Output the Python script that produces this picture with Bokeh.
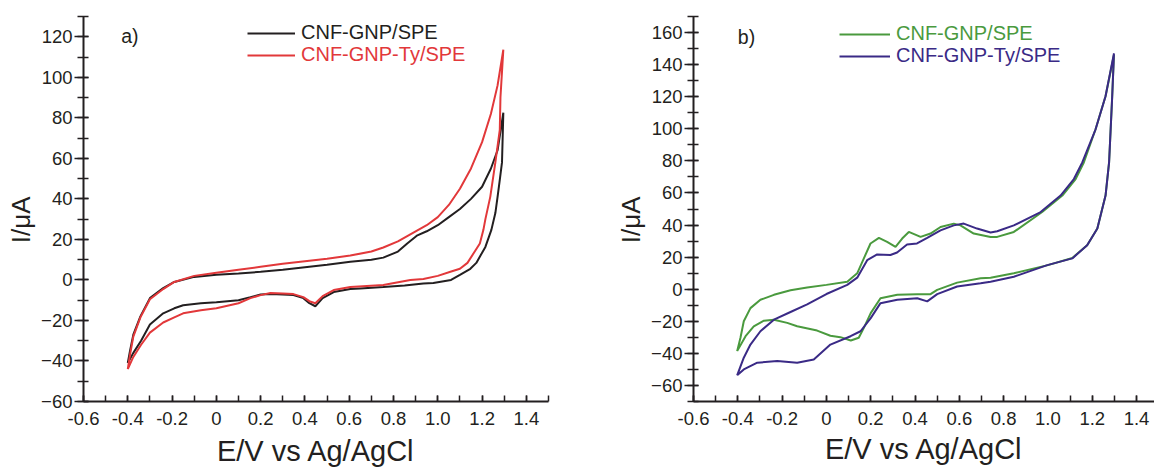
from bokeh.plotting import figure
from bokeh.models import (Range1d, FixedTicker, CustomJSTickFormatter, Legend, LegendItem, Label)
from bokeh.layouts import row
from bokeh.embed import file_html
from bokeh.resources import INLINE

# ---------------- data ----------------
# Panel a) CNF-GNP/SPE (black loop: forward branch then return branch)
e_a_black = [-0.40, -0.39, -0.375, -0.343, -0.30, -0.24, -0.19, -0.10, 0.0, 0.10, 0.20, 0.30, 0.38, 0.50, 0.605, 0.70,
             0.754, 0.82, 0.862, 0.908, 0.95, 1.0, 1.05, 1.10, 1.15, 1.20, 1.24, 1.27, 1.296,
             1.29, 1.28, 1.27, 1.26, 1.242, 1.215, 1.174, 1.147, 1.10, 1.06, 0.98, 0.935, 0.85, 0.754, 0.65, 0.605,
             0.53, 0.48, 0.447, 0.42, 0.393, 0.348, 0.30, 0.244, 0.20, 0.154, 0.10, 0.0, -0.07, -0.15, -0.19, -0.24,
             -0.30, -0.34, -0.375, -0.40]
i_a_black = [-41, -35, -27, -18, -9, -4, -1, 1.5, 2.5, 3.2, 4, 5, 6, 7.5, 9, 10,
             11, 14, 18, 22, 24, 27, 31, 35, 40, 46, 55, 64, 82.5,
             58, 49.4, 41, 33, 24.7, 16.3, 8.4, 5.5, 2.5, 0, -1.5, -1.8, -2.8, -3.5, -4.2, -4.5,
             -6, -9, -13, -11.5, -9, -7.5, -7.2, -7, -7.2, -8.5, -10, -11, -11.5, -12.5, -14, -16.5,
             -22, -30, -36, -41]

# Panel a) CNF-GNP-Ty/SPE (red loop)
e_a_red = [-0.40, -0.39, -0.375, -0.343, -0.30, -0.24, -0.19, -0.10, 0.0, 0.10, 0.20, 0.30, 0.38, 0.50, 0.605, 0.70,
           0.754, 0.82, 0.876, 0.90, 0.95, 1.0, 1.05, 1.10, 1.15, 1.20, 1.24, 1.27, 1.296,
           1.283, 1.28, 1.26, 1.237, 1.215, 1.206, 1.19, 1.134, 1.10, 1.057, 1.0, 0.935, 0.876, 0.754, 0.605, 0.53,
           0.48, 0.447, 0.42, 0.393, 0.348, 0.30, 0.244, 0.20, 0.154, 0.10, 0.0, -0.07, -0.15, -0.19, -0.24,
           -0.30, -0.34, -0.375, -0.40]
i_a_red = [-44, -37, -28, -18.5, -9.5, -4.5, -1, 2, 3.5, 5, 6.5, 8, 9, 10.5, 12, 14,
           16, 19, 22.5, 24, 27, 31, 37, 45, 55, 68, 82, 96, 113.6,
           90, 74, 58, 41, 30, 24.7, 18, 8.4, 5.5, 4, 2, 0.5, 0, -2.5, -3.5, -5,
           -8, -11.5, -10.5, -8.5, -7, -6.7, -6.5, -7.5, -9, -11.5, -14, -15, -16.5, -18.5, -21,
           -26, -32, -38, -44]

# Panel b) CNF-GNP/SPE (green loop)
e_b_green = [-0.403, -0.388, -0.373, -0.343, -0.298, -0.237, -0.162, -0.087, 0.0, 0.094, 0.139, 0.169, 0.199, 0.237,
             0.274, 0.312, 0.342, 0.372, 0.425, 0.47, 0.515, 0.575, 0.605, 0.665, 0.741, 0.771, 0.846, 0.974,
             1.065, 1.125, 1.162, 1.215, 1.26, 1.298,
             1.29, 1.276, 1.26, 1.223, 1.177, 1.11, 1.0, 0.846, 0.741, 0.696, 0.59, 0.5, 0.47, 0.41, 0.32, 0.244,
             0.20, 0.169, 0.146, 0.11, 0.063, 0.018, -0.042, -0.132, -0.177, -0.237, -0.282, -0.328, -0.365, -0.403]
i_b_green = [-38.6, -30.3, -20, -11.8, -6.6, -3.5, -0.7, 1, 2.7, 4.7, 9.9, 19.2, 28.5, 32,
             29.5, 26.4, 31.6, 35.7, 32.6, 34.7, 38.8, 40.9, 39.8, 34.7, 32.6, 32.6, 35.7, 48.1,
             58.4, 68.7, 79, 99.7, 120.3, 146,
             120, 79, 58.4, 37.8, 27.4, 19.5, 15, 9.9, 7.2, 6.8, 4.1, -0.4, -3.1, -3.1, -3.5, -5.6,
             -14.9, -24.1, -30.3, -32, -29.9, -29, -25.8, -23.1, -21, -19, -19.6, -23.1, -29.3, -38.6]

# Panel b) CNF-GNP-Ty/SPE (purple loop)
e_b_purple = [-0.403, -0.373, -0.343, -0.298, -0.237, -0.162, -0.087, 0.0, 0.094, 0.139, 0.184, 0.229, 0.289, 0.319,
              0.364, 0.409, 0.455, 0.515, 0.575, 0.62, 0.68, 0.741, 0.771, 0.846, 0.967, 1.057, 1.117, 1.155,
              1.215, 1.26, 1.298,
              1.29, 1.276, 1.26, 1.223, 1.177, 1.11, 0.997, 0.846, 0.741, 0.696, 0.59, 0.5, 0.455, 0.41, 0.32,
              0.244, 0.20, 0.154, 0.109, 0.018, -0.057, -0.132, -0.222, -0.312, -0.373, -0.403]
i_b_purple = [-53.7, -42.7, -34.5, -26.2, -19, -14.2, -9.5, -3, 2.7, 7.2, 18.1, 21.7, 21.3, 22.9,
              27.9, 28.5, 32, 36.7, 39.8, 40.9, 37.8, 35.3, 36.1, 39.8, 48.1, 58.4, 68.7, 79,
              99.7, 120.3, 147,
              120, 79, 58.4, 37.8, 27.4, 19.2, 15, 7.8, 4.7, 3.7, 1.7, -3.1, -7.6, -5.6, -6.6,
              -8.7, -18, -26.2, -29.3, -34.5, -43.8, -45.8, -44.8, -45.8, -50, -53.7]

series_names = ["CNF-GNP/SPE", "CNF-GNP-Ty/SPE"]
x_ticks = [-0.6, -0.4, -0.2, 0, 0.2, 0.4, 0.6, 0.8, 1.0, 1.2, 1.4]
y_ticks_a = [-60, -40, -20, 0, 20, 40, 60, 80, 100, 120]
y_ticks_b = [-60, -40, -20, 0, 20, 40, 60, 80, 100, 120, 140, 160]
x_title = "E/V vs Ag/AgCl"
y_title = "I/\u03bcA"

# ---------------- styling ----------------
FONT = "Liberation Sans"
AX = "#231f20"
C_BLACK = "#231f20"
C_RED = "#e2383a"
C_GREEN = "#4a9a3e"
C_PURPLE = "#3a2a86"
NB = "\u00a0\u00a0\u00a0"  # pushes the rotated y title a little lower, as in the reference


def style(p, yticks, x_standoff, y_standoff):
    p.outline_line_color = None
    p.xgrid.visible = False
    p.ygrid.visible = False
    xa = p.xaxis[0]
    ya = p.yaxis[0]
    xa.ticker = FixedTicker(ticks=x_ticks, minor_ticks=[round(-0.6 + 0.1 * k, 2) for k in range(22)])
    xa.formatter = CustomJSTickFormatter(code="return tick == 0 ? '0' : tick.toFixed(1);")
    ya.ticker = FixedTicker(ticks=yticks, minor_ticks=list(range(-70, 180, 10)))
    for a in (xa, ya):
        a.axis_line_color = AX
        a.axis_line_width = 2
        a.major_tick_line_color = AX
        a.minor_tick_line_color = AX
        a.major_tick_line_width = 1.5
        a.minor_tick_line_width = 1.5
        a.major_label_text_font = FONT
        a.major_label_text_font_size = "18.5px"
        a.major_label_text_color = AX
        a.axis_label_text_font = FONT
        a.axis_label_text_font_style = "normal"
        a.axis_label_text_color = AX
    xa.major_tick_in = 6
    xa.major_tick_out = 0
    xa.minor_tick_in = 6
    xa.minor_tick_out = 0
    xa.major_label_standoff = 10
    xa.axis_label = x_title
    xa.axis_label_text_font_size = "29px"
    xa.axis_label_text_line_height = 1.0
    xa.axis_label_standoff = x_standoff
    ya.major_tick_in = 5
    ya.major_tick_out = 9
    ya.minor_tick_in = 5
    ya.minor_tick_out = 6
    ya.major_label_standoff = 2
    ya.axis_label = y_title + NB
    ya.axis_label_text_font_size = "26px"
    ya.axis_label_standoff = y_standoff


def add_legend(p, renderer, name, color, vx, vy, gw, standoff):
    leg = Legend(items=[LegendItem(label=name, renderers=[renderer])], location=(vx, vy))
    leg.border_line_color = None
    leg.background_fill_alpha = 0
    leg.padding = 0
    leg.margin = 0
    leg.spacing = 0
    leg.glyph_width = gw
    leg.glyph_height = 20
    leg.label_height = 20
    leg.label_standoff = standoff
    leg.label_text_font = FONT
    leg.label_text_font_size = "20px"
    leg.label_text_color = color
    p.add_layout(leg, "center")


# ---------------- panel a ----------------
p1 = figure(width=580, height=469, x_range=Range1d(-0.6, 1.5), y_range=Range1d(-60, 130),
            output_backend="svg", toolbar_location=None,
            min_border_left=83, min_border_right=32, min_border_top=16, min_border_bottom=67)
style(p1, y_ticks_a, 7, 2)
r1 = p1.line(e_a_black, i_a_black, line_color=C_BLACK, line_width=2)
r2 = p1.line(e_a_red, i_a_red, line_color=C_RED, line_width=2)
add_legend(p1, r1, series_names[0], C_BLACK, 164, 357, 48, 6)
add_legend(p1, r2, series_names[1], C_RED, 164, 335, 48, 6)
p1.add_layout(Label(x=-0.43, y=120.5, text="a)", text_font=FONT, text_font_size="19.5px",
                    text_color=AX, text_baseline="middle"))

# ---------------- panel b ----------------
p2 = figure(width=574, height=469, x_range=Range1d(-0.6, 1.481), y_range=Range1d(-70, 170),
            output_backend="svg", toolbar_location=None,
            min_border_left=113, min_border_right=0, min_border_top=16, min_border_bottom=65)
style(p2, y_ticks_b, 5, 2)
r3 = p2.line(e_b_green, i_b_green, line_color=C_GREEN, line_width=2)
r4 = p2.line(e_b_purple, i_b_purple, line_color=C_PURPLE, line_width=2)
add_legend(p2, r3, series_names[0], C_GREEN, 146, 356, 51, 6)
add_legend(p2, r4, series_names[1], C_PURPLE, 146, 334, 51, 6)
p2.add_layout(Label(x=-0.40, y=157, text="b)", text_font=FONT, text_font_size="19.5px",
                    text_color=AX, text_baseline="middle"))

layout = row(p1, p2)
open("out.html", "w").write(file_html(layout, INLINE))
